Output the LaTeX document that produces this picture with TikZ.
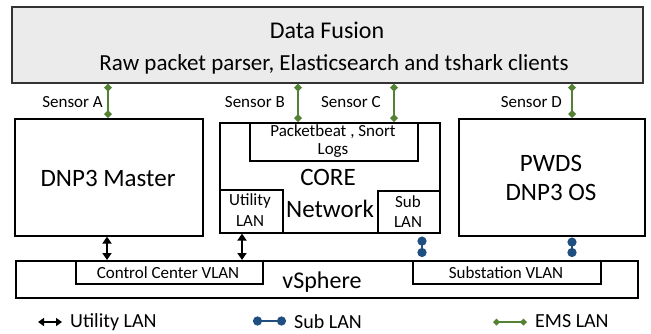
\documentclass[tikz,border=0pt]{standalone}
\usepackage{fontspec}
\setmainfont{Carlito}
\usetikzlibrary{arrows.meta}
\definecolor{emsgreen}{RGB}{84,130,53}
\definecolor{subblue}{RGB}{31,78,128}
\definecolor{dfgray}{RGB}{235,235,235}
\begin{document}
\begin{tikzpicture}[x=1pt,y=-1pt,
 box/.style={draw=black, line width=1.6pt, inner sep=0pt, anchor=north west},
 big/.style={font=\fontsize{25}{28}\selectfont, anchor=base, inner sep=0pt},
 mid/.style={font=\fontsize{23}{26}\selectfont, anchor=base, inner sep=0pt},
 small/.style={font=\fontsize{17}{19}\selectfont, anchor=base, inner sep=0pt},
 leg/.style={font=\fontsize{20}{22}\selectfont, anchor=base west, inner sep=0pt},
 ems/.style={draw=emsgreen, line width=2.8pt, {Diamond[length=8pt,width=8pt]}-{Diamond[length=8pt,width=8pt]}},
 ulan/.style={draw=black, line width=2.4pt, {Triangle[length=7pt,width=9pt]}-{Triangle[length=7pt,width=9pt]}},
 slan/.style={draw=subblue, line width=2.8pt, {Circle[length=9pt]}-{Circle[length=9pt]}},
]
\useasboundingbox (0,0) rectangle (651,333);

% boxes
\node[box, draw=black!80, fill=dfgray, minimum width=631pt, minimum height=76pt] (df) at (11,6) {};
\node[box, minimum width=188pt, minimum height=117pt] (dnp) at (14,118) {};
\node[box, minimum width=220pt, minimum height=110pt] (core) at (219,122) {};
\node[box, minimum width=168pt, minimum height=38pt] (pb) at (249,122) {};
\node[box, minimum width=63pt, minimum height=43pt] (ul) at (219,189) {};
\node[box, minimum width=62pt, minimum height=42pt] (sl) at (377,190) {};
\node[box, minimum width=186pt, minimum height=117pt] (pwds) at (458,118) {};
\node[box, minimum width=622pt, minimum height=37pt] (vs) at (15,260) {};
\node[box, minimum width=187pt, minimum height=23pt] (ccv) at (75,260) {};
\node[box, minimum width=188pt, minimum height=23pt] (ssv) at (412,260) {};

% texts
\node[big, font=\fontsize{24}{26}\selectfont] (tdf) at (327,38) {Data Fusion};
\node[mid] (traw) at (334,70) {Raw packet parser, Elasticsearch and tshark clients};
\node[small, anchor=base east] (tsa) at (103,107) {Sensor A};
\node[small, anchor=base east] (tsb) at (285,107) {Sensor B};
\node[small, anchor=base east] (tsc) at (381,107) {Sensor C};
\node[small, anchor=base east] (tsd) at (562,107) {Sensor D};
\node[big] (tdnp) at (108,186) {DNP3 Master};
\node[small] (tpb1) at (333,136) {Packetbeat , Snort};
\node[small] (tpb2) at (333,154) {Logs};
\node[big] (tcore) at (328,185) {CORE};
\node[big] (tnet) at (330,217) {Network};
\node[small] (tul1) at (250,205) {Utility};
\node[small] (tul2) at (250,226) {LAN};
\node[small] (tsl1) at (408,207) {Sub};
\node[small] (tsl2) at (408,227) {LAN};
\node[big] (tpw1) at (551,171) {PWDS};
\node[big] (tpw2) at (551,200) {DNP3 OS};
\node[big, font=\fontsize{24}{26}\selectfont] (tvs) at (322,288) {vSphere};
\node[small] (tccv) at (168,278) {Control Center VLAN};
\node[small] (tssv) at (506,278) {Substation VLAN};

% connector x positions
\coordinate (xa) at (108,0);
\coordinate (xb) at (298,0);
\coordinate (xc) at (394,0);
\coordinate (xd) at (572,0);
\coordinate (xu1) at (107,0);
\coordinate (xu2) at (242,0);
\coordinate (xs1) at (422,0);
\coordinate (xs2) at (572,0);

% sensors (EMS LAN)
\draw[ems] (df.south -| xa) -- (dnp.north -| xa);
\draw[ems] (df.south -| xb) -- (core.north -| xb);
\draw[ems] (df.south -| xc) -- (core.north -| xc);
\draw[ems] (df.south -| xd) -- (pwds.north -| xd);

% utility LAN
\draw[ulan] (dnp.south -| xu1) -- (vs.north -| xu1);
\draw[ulan] (ul.south -| xu2) -- (vs.north -| xu2);

% sub LAN
\draw[slan] ([yshift=-3pt]sl.south -| xs1) -- ([yshift=3pt]ssv.north -| xs1);
\draw[slan] ([yshift=-1pt]pwds.south -| xs2) -- ([yshift=3pt]ssv.north -| xs2);

% legend
\coordinate (l1a) at (38,322); \coordinate (l1b) at (62,322);
\coordinate (l2a) at (253,321); \coordinate (l2b) at (286,321);
\coordinate (l3a) at (493,322); \coordinate (l3b) at (527,322);
\draw[ulan, line width=2pt, {Triangle[length=6pt,width=8pt]}-{Triangle[length=6pt,width=8pt]}] (l1a) -- (l1b);
\draw[slan] (l2a) -- (l2b);
\draw[ems, {Diamond[length=7pt,width=7pt]}-{Diamond[length=7pt,width=7pt]}] (l3a) -- (l3b);
\node[leg] (lg1) at (70,327) {Utility LAN};
\node[leg] (lg2) at (294,328) {Sub LAN};
\node[leg] (lg3) at (535,327) {EMS LAN};
\end{tikzpicture}
\end{document}
